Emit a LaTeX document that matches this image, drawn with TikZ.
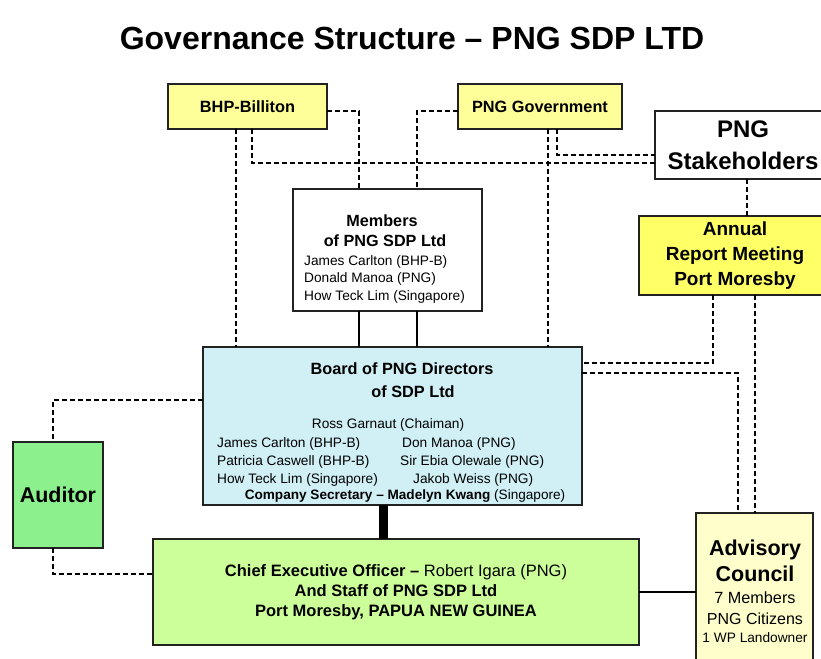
\documentclass[tikz,border=0pt]{standalone}
\usepackage{fontspec}
\setmainfont{Liberation Sans}
\definecolor{lyellow}{HTML}{FFFF99}
\definecolor{ayellow}{HTML}{FFFF66}
\definecolor{boardc}{HTML}{D0F0F6}
\definecolor{auditc}{HTML}{8CF08C}
\definecolor{ceoc}{HTML}{CCFF99}
\definecolor{advc}{HTML}{FFFFCC}
\definecolor{edge}{HTML}{222222}
\newcommand{\fs}[1]{\fontsize{#1}{#1}\selectfont}
\begin{document}
\begin{tikzpicture}[x=1pt,y=-1pt,
  box/.style={draw=edge, line width=1.4pt, inner sep=0pt, outer sep=0pt, anchor=center, align=center},
  lbl/.style={inner sep=0pt, anchor=base},
  lbll/.style={inner sep=0pt, anchor=base west},
  dashln/.style={draw=black, line width=1.2pt, dash pattern=on 5pt off 3pt},
  solidln/.style={draw=black, line width=1.2pt},
  thickln/.style={draw=black, line width=9pt}]
\useasboundingbox[fill=white] (0,0) rectangle (821,658);

% title
\node[lbl] (title) at (412,50) {\fs{32}\bfseries Governance Structure – PNG SDP LTD};

% boxes
\node[box, fill=lyellow, minimum width=159pt, minimum height=45pt] (bhp) at (247.5,106.5) {\fs{16.3}\bfseries BHP-Billiton};
\node[box, fill=lyellow, minimum width=164pt, minimum height=45pt] (gov) at (540,106.5) {\fs{16.3}\bfseries PNG Government};
\node[box, fill=white, minimum width=176pt, minimum height=68pt, font={\fontsize{24}{32}\selectfont\bfseries}] (stake) at (743,145) {PNG\\Stakeholders};
\node[box, fill=white, minimum width=189pt, minimum height=122pt] (members) at (387.5,250) {};
\node[box, fill=ayellow, minimum width=192pt, minimum height=79pt, font={\fontsize{19}{25}\selectfont\bfseries}] (annual) at (735,255.5) {Annual\\Report Meeting\\Port Moresby};
\node[box, fill=boardc, minimum width=379pt, minimum height=158pt] (board) at (392.5,426) {};
\node[box, fill=auditc, minimum width=90pt, minimum height=106pt] (auditor) at (58,495) {\fs{21.4}\bfseries Auditor};
\node[box, fill=ceoc, minimum width=486pt, minimum height=106pt, font={\fontsize{16.5}{20}\selectfont}] (ceo) at (396,592) {\textbf{Chief Executive Officer –} Robert Igara (PNG)\\\textbf{And Staff of PNG SDP Ltd}\\\textbf{Port Moresby, PAPUA NEW GUINEA}};
\node[box, fill=advc, minimum width=117pt, minimum height=157pt] (advisory) at (754.5,591.5) {};

% members text
\node[lbl] (m1) at (382,226) {\fs{16.2}\bfseries Members};
\node[lbl] (m2) at (385,246) {\fs{16.2}\bfseries of PNG SDP Ltd};
\node[lbll] (m3) at (304,265) {\fs{13.7}James Carlton (BHP-B)};
\node[lbll] (m4) at (304,282) {\fs{13.7}Donald Manoa (PNG)};
\node[lbll] (m5) at (304,300) {\fs{13.7}How Teck Lim (Singapore)};

% board text
\node[lbl] (b1) at (402,374) {\fs{16.3}\bfseries Board of PNG Directors};
\node[lbl] (b2) at (413,397) {\fs{16.3}\bfseries of SDP Ltd};
\node[lbl] (b3) at (388,428) {\fs{13.7}Ross Garnaut (Chaiman)};
\node[lbll] (b4) at (217,447) {\fs{13.7}James Carlton (BHP-B)};
\node[lbll] (b5) at (217,465) {\fs{13.7}Patricia Caswell (BHP-B)};
\node[lbll] (b6) at (217,483) {\fs{13.7}How Teck Lim (Singapore)};
\node[lbll] (b7) at (402,447) {\fs{13.7}Don Manoa (PNG)};
\node[lbll] (b8) at (400,465) {\fs{13.7}Sir Ebia Olewale (PNG)};
\node[lbll] (b9) at (413,483) {\fs{13.7}Jakob Weiss (PNG)};
\node[lbl] (b10) at (405,499) {\fs{13.6}\textbf{Company Secretary – Madelyn Kwang} (Singapore)};

% advisory text
\node[lbl] (a1) at (755,555) {\fs{21.5}\bfseries Advisory};
\node[lbl] (a2) at (755,581) {\fs{21.5}\bfseries Council};
\node[lbl] (a3) at (755,603) {\fs{16.2}7 Members};
\node[lbl] (a4) at (755,624) {\fs{16}PNG Citizens};
\node[lbl] (a5) at (755,642) {\fs{13.7}1 WP Landowner};

% helper coordinates
\coordinate (xb1) at (236,0);
\coordinate (xb2) at (252,0);
\coordinate (xm1) at (359,0);
\coordinate (xm2) at (417,0);
\coordinate (xg1) at (548,0);
\coordinate (xg2) at (557,0);
\coordinate (xs) at (747,0);
\coordinate (xa1) at (713,0);
\coordinate (xa2) at (755,0);
\coordinate (xv) at (738,0);
\coordinate (xt) at (383,0);
\coordinate (xau) at (53,0);
\coordinate (yb) at (0,111);
\coordinate (y163) at (0,163);
\coordinate (y155) at (0,155);
\coordinate (y363) at (0,363);
\coordinate (y373) at (0,373);
\coordinate (y400) at (0,400);
\coordinate (y574) at (0,574);
\coordinate (y592) at (0,592);

% connectors
\draw[dashln] (bhp.east |- yb) -| (members.north -| xm1);
\draw[dashln] (gov.west |- yb) -| (members.north -| xm2);
\draw[dashln] (bhp.south -| xb1) -- (board.north -| xb1);
\draw[dashln] (bhp.south -| xb2) |- (stake.west |- y163);
\draw[dashln] (gov.south -| xg1) -- (board.north -| xg1);
\draw[dashln] (gov.south -| xg2) |- (stake.west |- y155);
\draw[dashln] (stake.south -| xs) -- (annual.north -| xs);
\draw[solidln] (members.south -| xm1) -- (board.north -| xm1);
\draw[solidln] (members.south -| xm2) -- (board.north -| xm2);
\draw[dashln] (annual.south -| xa1) |- (board.east |- y363);
\draw[dashln] (board.east |- y373) -| (advisory.north -| xv);
\draw[dashln] (annual.south -| xa2) -- (advisory.north -| xa2);
\draw[thickln] (board.south -| xt) -- (ceo.north -| xt);
\draw[dashln] (board.west |- y400) -| (auditor.north -| xau);
\draw[dashln] (auditor.south -| xau) |- (ceo.west |- y574);
\draw[solidln] (ceo.east |- y592) -- (advisory.west |- y592);
\end{tikzpicture}
\end{document}
